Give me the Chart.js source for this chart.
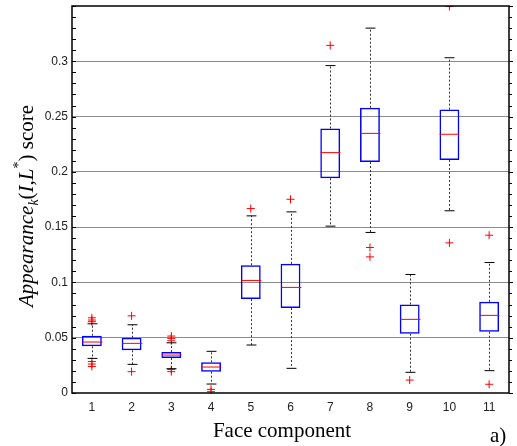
<!DOCTYPE html>
<html>
<head>
<meta charset="utf-8">
<script src="https://cdn.jsdelivr.net/npm/chart.js@4/dist/chart.umd.min.js"></script>
<style>
  html, body { margin: 0; padding: 0; background: #fff; }
</style>
</head>
<body>
<canvas id="chart_box" width="517" height="446"></canvas>
<script>
var components = ['1', '2', '3', '4', '5', '6', '7', '8', '9', '10', '11'];
var q1 = [0.0422, 0.0386, 0.0316, 0.0193, 0.0849, 0.0768, 0.1942, 0.2089, 0.0536, 0.2108, 0.0554];
var medians = [0.0461, 0.0449, 0.0343, 0.0235, 0.1018, 0.0955, 0.2174, 0.2348, 0.0666, 0.2340, 0.0702];
var q3 = [0.0518, 0.0500, 0.0370, 0.0277, 0.1156, 0.1168, 0.2392, 0.2580, 0.0801, 0.2563, 0.0825];
var whisker_lo = [0.0313, 0.0259, 0.0220, 0.0081, 0.0434, 0.0223, 0.1509, 0.1452, 0.0187, 0.1648, 0.0202];
var whisker_hi = [0.0626, 0.0617, 0.0454, 0.0377, 0.1602, 0.1638, 0.2961, 0.3300, 0.1072, 0.3032, 0.1180];
var outliers = [
  [0.0680, 0.0660, 0.0645, 0.0285, 0.0262, 0.0240],
  [0.0698, 0.0193],
  [0.0515, 0.0494, 0.0472, 0.0212, 0.0193],
  [0.0033, 0.0012],
  [0.1668],
  [0.1752],
  [0.3144],
  [0.1316, 0.1231],
  [0.0117],
  [0.3496, 0.1358],
  [0.1427, 0.0079]
];
var y_labels = [0, 0.05, 0.1, 0.15, 0.2, 0.25, 0.3];

var boxes = [];
var outlier_points = [];
for (var i = 0; i < components.length; i++) {
  boxes.push([q1[i], q3[i]]);
  for (var j = 0; j < outliers[i].length; j++) {
    outlier_points.push({x: components[i], y: outliers[i][j]});
  }
}

function is_major(v) {
  var k = Math.round(v * 100);
  return k % 5 === 0;
}

function line(ctx, x1, y1, x2, y2) {
  ctx.beginPath();
  ctx.moveTo(x1, y1);
  ctx.lineTo(x2, y2);
  ctx.stroke();
}

function draw_y_title(ctx) {
  var serif = '"Liberation Serif", "Times New Roman", serif';
  var parts = [
    {t: 'Appearance', f: 'italic 21px ' + serif, dy: 0},
    {t: 'k', f: 'italic 14px ' + serif, dy: 5},
    {t: '(', f: '21px ' + serif, dy: 0},
    {t: 'I', f: 'italic 21px ' + serif, dy: 0},
    {t: ',', f: '21px ' + serif, dy: 0},
    {t: 'L', f: 'italic 21px ' + serif, dy: 0},
    {t: '*', f: '14px ' + serif, dy: -10},
    {t: ')', f: '21px ' + serif, dy: 0},
    {t: ' score', f: '21px ' + serif, dy: 0}
  ];
  var total = 0;
  for (var i = 0; i < parts.length; i++) {
    ctx.font = parts[i].f;
    parts[i].w = ctx.measureText(parts[i].t).width;
    total += parts[i].w;
  }
  ctx.save();
  ctx.translate(33, 206);
  ctx.rotate(-Math.PI / 2);
  ctx.fillStyle = '#000';
  ctx.textBaseline = 'alphabetic';
  ctx.textAlign = 'left';
  var x = -total / 2;
  for (var i = 0; i < parts.length; i++) {
    ctx.font = parts[i].f;
    ctx.fillText(parts[i].t, x, parts[i].dy);
    x += parts[i].w;
  }
  ctx.restore();
}

var box_extras = {
  id: 'box_extras',
  afterDatasetsDraw: function (chart) {
    var ctx = chart.ctx;
    var xs = chart.scales.x;
    var ys = chart.scales.y;
    var bars = chart.getDatasetMeta(0).data;
    ctx.save();
    for (var i = 0; i < components.length; i++) {
      var cx = Math.round(xs.getPixelForValue(i)) + 0.5;
      var half = bars[i].width / 2;
      var cap = half / 2;
      var y_lo = ys.getPixelForValue(whisker_lo[i]);
      var y_hi = ys.getPixelForValue(whisker_hi[i]);
      var y_q1 = ys.getPixelForValue(q1[i]);
      var y_q3 = ys.getPixelForValue(q3[i]);
      var y_med = ys.getPixelForValue(medians[i]);
      ctx.strokeStyle = '#333';
      ctx.lineWidth = 1;
      ctx.setLineDash([2, 2]);
      line(ctx, cx, y_q3, cx, y_hi);
      line(ctx, cx, y_q1, cx, y_lo);
      ctx.setLineDash([]);
      ctx.strokeStyle = '#000';
      line(ctx, cx - cap, y_hi, cx + cap, y_hi);
      line(ctx, cx - cap, y_lo, cx + cap, y_lo);
      ctx.strokeStyle = '#ff0000';
      line(ctx, cx - half, y_med, cx + half, y_med);
    }
    ctx.restore();
  },
  afterDraw: function (chart) {
    var ctx = chart.ctx;
    var a = chart.chartArea;
    var ys = chart.scales.y;
    ctx.save();
    ctx.strokeStyle = '#000';
    ctx.lineWidth = 1;
    ys.ticks.forEach(function (t) {
      var yp = Math.round(ys.getPixelForValue(t.value)) + 0.5;
      var len = is_major(t.value) ? 4 : 3;
      line(ctx, a.left, yp, a.left + 4, yp);
      line(ctx, a.right, yp, a.right + len, yp);
    });
    ctx.lineWidth = 1.5;
    ctx.strokeRect(a.left, a.top, a.right - a.left, a.bottom - a.top);

    draw_y_title(ctx);
    ctx.fillStyle = '#000';
    ctx.textBaseline = 'alphabetic';
    ctx.font = '21px "Liberation Serif", "Times New Roman", serif';
    ctx.textAlign = 'center';
    ctx.fillText('Face component', 282, 437);
    ctx.textAlign = 'left';
    ctx.fillText('a)', 490, 442);
    ctx.restore();
  }
};

var ctx = document.getElementById('chart_box').getContext('2d');
var chart = new Chart(ctx, {
  type: 'bar',
  data: {
    labels: components,
    datasets: [{
      label: 'Box',
      data: boxes,
      backgroundColor: 'rgba(0,0,0,0)',
      borderColor: '#0000ff',
      borderWidth: 1.5,
      borderSkipped: false,
      barPercentage: 0.5,
      categoryPercentage: 1.0,
      grouped: false
    }, {
      type: 'line',
      label: 'Outliers',
      data: outlier_points,
      showLine: false,
      pointStyle: 'cross',
      pointRadius: 4,
      pointBorderWidth: 1,
      pointBorderColor: '#ff0000',
      pointBackgroundColor: '#ff0000'
    }]
  },
  options: {
    responsive: false,
    animation: false,
    devicePixelRatio: 1,
    layout: {padding: {top: 6, right: 8, left: 0, bottom: 0}},
    plugins: {
      legend: {display: false},
      tooltip: {enabled: false}
    },
    scales: {
      x: {
        grid: {display: false, drawTicks: false},
        border: {display: false},
        ticks: {
          color: '#222',
          font: {family: '"Liberation Sans", Arial, sans-serif', size: 12},
          padding: 7
        },
        afterFit: function (s) {
          s.height = 53;
          s.paddingLeft = 0;
          s.paddingRight = 0;
        }
      },
      y: {
        min: 0,
        max: 0.35,
        border: {display: false},
        grid: {
          drawTicks: false,
          lineWidth: 1,
          color: function (c) {
            var k = Math.round(c.tick.value * 100);
            return (k % 5 === 0 && k > 0 && k < 35) ? '#8c8c8c' : 'rgba(0,0,0,0)';
          }
        },
        ticks: {
          stepSize: 0.01,
          autoSkip: false,
          padding: 4,
          color: '#222',
          font: {family: '"Liberation Sans", Arial, sans-serif', size: 12},
          callback: function (v) {
            for (var i = 0; i < y_labels.length; i++) {
              if (Math.abs(v - y_labels[i]) < 1e-9) return String(y_labels[i]);
            }
            return '';
          }
        },
        afterFit: function (s) {
          s.width = 72;
          s.paddingTop = 0;
          s.paddingBottom = 0;
        }
      }
    }
  },
  plugins: [box_extras]
});
</script>
</body>
</html>
